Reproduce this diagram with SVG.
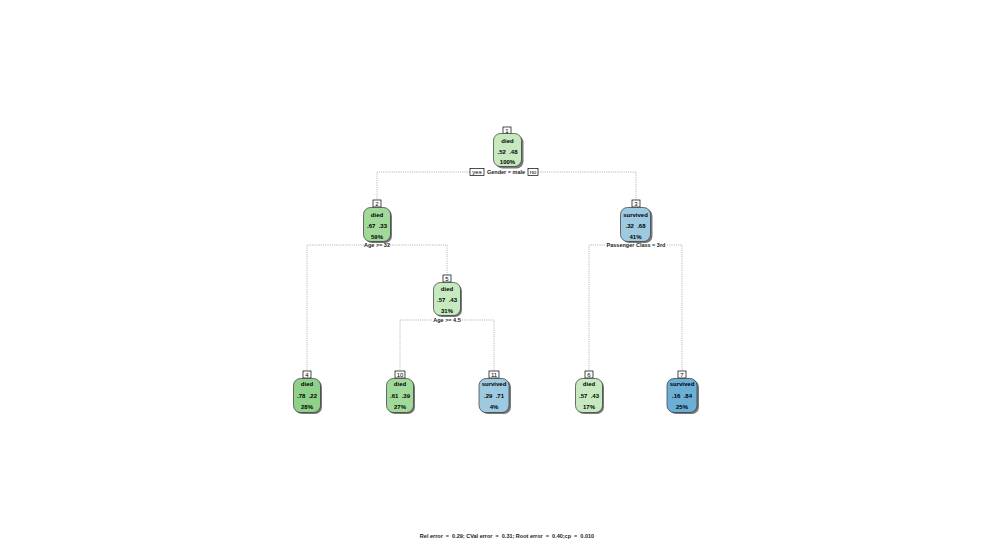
<svg xmlns="http://www.w3.org/2000/svg" width="990" height="545" viewBox="0 0 990 545">
<style>
text{font-family:"Liberation Sans",Arial,sans-serif;font-size:6px;text-anchor:middle;fill:#000;white-space:pre}
.t{font-weight:bold}
.sh{fill:#7a7a7a}
.bx{stroke:#333;stroke-width:0.7}
.lb{fill:#fff;stroke:#000;stroke-width:0.7}
.cn{fill:none;stroke:#999;stroke-width:0.8;stroke-dasharray:1,1.2}
.g1{fill:#c7e9c0}.g2{fill:#a1d99b}.g3{fill:#8fd18b}
.b1{fill:#9ecae1}.b2{fill:#6baed6}
.sp{font-size:5.5px;font-weight:bold;fill:#222}
</style>
<rect width="990" height="545" fill="#fff"/>
<g id="connectors">
<path class="cn" d="M470,172 H377 V200"/>
<path class="cn" d="M538,172 H636 V200"/>
<path class="cn" d="M366,245 H307 V371"/>
<path class="cn" d="M388,245 H447 V275"/>
<path class="cn" d="M605,245 H589 V371"/>
<path class="cn" d="M667,245 H682 V371"/>
<path class="cn" d="M432,320 H400 V371"/>
<path class="cn" d="M462,320 H494 V371"/>
</g>
<g id="split1">
<rect class="lb" x="470" y="168.5" width="14" height="7"/>
<text x="477" y="174">yes</text>
<text class="sp" x="506" y="174">Gender = male</text>
<rect class="lb" x="528" y="168.5" width="10" height="7"/>
<text x="533" y="174">no</text>
</g>
<g id="split2"><text class="sp" x="377" y="247">Age &gt;= 32</text></g>
<g id="split3"><text class="sp" x="636" y="247">Passenger Class = 3rd</text></g>
<g id="split5"><text class="sp" x="447" y="322">Age &gt;= 4.5</text></g>
<g id="node1">
<rect class="lb" x="503" y="127" width="8" height="7"/>
<text x="507" y="133">1</text>
<rect class="sh" x="495.5" y="135.5" width="28" height="33" rx="7"/>
<rect class="bx g1" x="493.5" y="133.5" width="28" height="33" rx="7"/>
<text class="t" x="507.5" y="143">died</text>
<text class="t" x="507.5" y="154">.52  .48</text>
<text class="t" x="507.5" y="164">100%</text>
</g>
<g id="node2">
<rect class="lb" x="373" y="200" width="8" height="7"/>
<text x="377" y="206">2</text>
<rect class="sh" x="365" y="209" width="27" height="34" rx="7"/>
<rect class="bx g2" x="363.5" y="207.5" width="27" height="34" rx="7"/>
<text class="t" x="377" y="217">died</text>
<text class="t" x="377" y="228">.67  .33</text>
<text class="t" x="377" y="239">59%</text>
</g>
<g id="node3">
<rect class="lb" x="632" y="200" width="8" height="7"/>
<text x="636" y="206">3</text>
<rect class="sh" x="622.5" y="209" width="30" height="34" rx="7"/>
<rect class="bx b1" x="620.5" y="207.5" width="30" height="34" rx="7"/>
<text class="t" x="635.5" y="217">survived</text>
<text class="t" x="635.5" y="228">.32  .68</text>
<text class="t" x="635.5" y="239">41%</text>
</g>
<g id="node5">
<rect class="lb" x="443" y="275" width="8" height="7"/>
<text x="447" y="281">5</text>
<rect class="sh" x="435" y="284" width="27" height="33" rx="7"/>
<rect class="bx g1" x="433.5" y="282.5" width="27" height="33" rx="7"/>
<text class="t" x="447" y="291">died</text>
<text class="t" x="447" y="302">.57  .43</text>
<text class="t" x="447" y="313">31%</text>
</g>
<g id="node4">
<rect class="lb" x="303" y="371" width="8" height="7"/>
<text x="307" y="377">4</text>
<rect class="sh" x="295" y="380" width="27" height="34" rx="7"/>
<rect class="bx g3" x="293.5" y="378.5" width="27" height="34" rx="7"/>
<text class="t" x="307" y="386">died</text>
<text class="t" x="307" y="398">.78  .22</text>
<text class="t" x="307" y="409">28%</text>
</g>
<g id="node10">
<rect class="lb" x="395" y="371" width="10" height="7"/>
<text x="400" y="377">10</text>
<rect class="sh" x="388" y="380" width="27" height="34" rx="7"/>
<rect class="bx g2" x="386.5" y="378.5" width="27" height="34" rx="7"/>
<text class="t" x="400" y="386">died</text>
<text class="t" x="400" y="398">.61  .39</text>
<text class="t" x="400" y="409">27%</text>
</g>
<g id="node11">
<rect class="lb" x="489" y="371" width="10" height="7"/>
<text x="494" y="377">11</text>
<rect class="sh" x="481" y="380" width="30" height="34" rx="7"/>
<rect class="bx b1" x="479" y="378.5" width="30" height="34" rx="7"/>
<text class="t" x="494" y="386">survived</text>
<text class="t" x="494" y="398">.29  .71</text>
<text class="t" x="494" y="409">4%</text>
</g>
<g id="node6">
<rect class="lb" x="585" y="371" width="8" height="7"/>
<text x="589" y="377">6</text>
<rect class="sh" x="577" y="380" width="27" height="34" rx="7"/>
<rect class="bx g1" x="575.5" y="378.5" width="27" height="34" rx="7"/>
<text class="t" x="589" y="386">died</text>
<text class="t" x="589" y="398">.57  .43</text>
<text class="t" x="589" y="409">17%</text>
</g>
<g id="node7">
<rect class="lb" x="678" y="371" width="8" height="7"/>
<text x="682" y="377">7</text>
<rect class="sh" x="669" y="380" width="30" height="34" rx="7"/>
<rect class="bx b2" x="667" y="378.5" width="30" height="34" rx="7"/>
<text class="t" x="682" y="386">survived</text>
<text class="t" x="682" y="398">.16  .84</text>
<text class="t" x="682" y="409">25%</text>
</g>
<g id="footer">
<text class="sp" x="507" y="538">Rel error  =  0.29; CVal error  =  0.31; Root error  =  0.40;cp  =  0.010</text>
</g>
</svg>
